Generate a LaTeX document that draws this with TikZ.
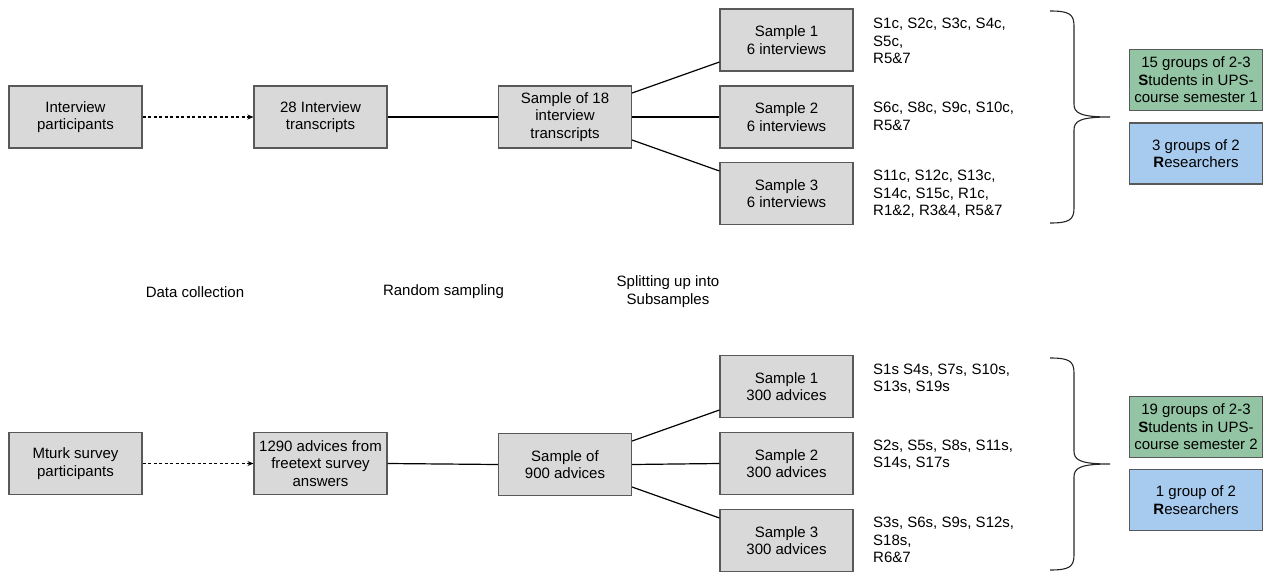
\documentclass[tikz,border=0pt]{standalone}
\usepackage{fontspec}
\setmainfont{Liberation Sans}
\usetikzlibrary{arrows.meta}
\definecolor{boxgray}{HTML}{D9D9D9}
\definecolor{edgegray}{HTML}{595959}
\definecolor{stgreen}{HTML}{93C5A4}
\definecolor{rsblue}{HTML}{A7CBEF}
\tikzset{
  stagebox/.style={draw=edgegray, fill=boxgray, line width=1.1pt, minimum width=133pt, minimum height=62pt, align=center, inner sep=2pt},
  groupbox/.style={draw=edgegray, line width=1.1pt, minimum width=133pt, minimum height=61pt, align=center, inner sep=1pt},
  codes/.style={anchor=west, align=left, inner sep=0pt},
  phase/.style={align=center, inner sep=0pt},
  link/.style={line width=1.2pt, black},
  dotlink/.style={line width=1.2pt, black, dash pattern=on 3pt off 2.5pt, -{Stealth[length=6pt,width=5pt]}},
  bracepath/.style={line width=1.1pt, black!85}
}
\begin{document}
\begin{tikzpicture}[x=1pt,y=-1pt, font=\fontsize{15}{17.5}\selectfont]
\useasboundingbox (0,0) rectangle (1264,573);

% ---- top row ----
\node[stagebox] (ip)  at (75.5,117) {Interview\\participants};
\node[stagebox] (t28) at (320.5,117) {28 Interview\\transcripts};
\node[stagebox] (s18) at (565,117) {Sample of 18\\interview\\transcripts};
\node[stagebox] (a1)  at (786.5,40) {Sample 1\\6 interviews};
\node[stagebox] (a2)  at (786.5,117) {Sample 2\\6 interviews};
\node[stagebox] (a3)  at (786.5,193.5) {Sample 3\\6 interviews};

\draw[dotlink] (ip.east) -- (t28.west);
\draw[link] (t28.east) -- (s18.west);
\draw[link] ([yshift=24pt]s18.east) -- ([yshift=-22pt]a1.west);
\draw[link] (s18.east) -- (a2.west);
\draw[link] ([yshift=-23pt]s18.east) -- ([yshift=22.5pt]a3.west);

\node[codes] (c1) at (873,41) {S1c, S2c, S3c, S4c,\\S5c,\\R5\&7};
\node[codes] (c2) at (873,116.5) {S6c, S8c, S9c, S10c,\\R5\&7};
\node[codes] (c3) at (873,194) {S11c, S12c, S13c,\\S14c, S15c, R1c,\\R1\&2, R3\&4, R5\&7};

\draw[bracepath] (1050,11) .. controls (1069,11) and (1074,14) .. (1074,26)
  -- (1074,104) .. controls (1074,113) and (1080,117) .. (1110,117)
  .. controls (1080,117) and (1074,121) .. (1074,130)
  -- (1074,208) .. controls (1074,220) and (1069,223) .. (1050,223);

\node[groupbox, fill=stgreen] (g1) at (1196,80) {15 groups of 2-3\\\textbf{S}tudents in UPS-\\course semester 1};
\node[groupbox, fill=rsblue] (r1) at (1196,153.5) {3 groups of 2\\\textbf{R}esearchers};

% ---- phase labels ----
\node[phase] (p1) at (195,292) {Data collection};
\node[phase] (p2) at (443.5,292) {Random sampling};
\node[phase] (p3) at (668,291.5) {Splitting up into\\Subsamples};

% ---- bottom row ----
\node[stagebox] (mt)   at (75.5,463.5) {Mturk survey\\participants};
\node[stagebox] (adv)  at (320.5,463.5) {1290 advices from\\freetext survey\\answers};
\node[stagebox] (s900) at (565,464.5) {Sample of\\900 advices};
\node[stagebox] (b1)   at (786.5,386.5) {Sample 1\\300 advices};
\node[stagebox] (b2)   at (786.5,463.5) {Sample 2\\300 advices};
\node[stagebox] (b3)   at (786.5,540.5) {Sample 3\\300 advices};

\draw[dotlink] (mt.east) -- (adv.west);
\draw[link] (adv.east) -- (s900.west);
\draw[link] ([yshift=23.5pt]s900.east) -- ([yshift=-23.5pt]b1.west);
\draw[link] (s900.east) -- (b2.west);
\draw[link] ([yshift=-22.5pt]s900.east) -- ([yshift=22.5pt]b3.west);

\node[codes] (d1) at (873,378.5) {S1s S4s, S7s, S10s,\\S13s, S19s};
\node[codes] (d2) at (873,454.5) {S2s, S5s, S8s, S11s,\\S14s, S17s};
\node[codes] (d3) at (873,540) {S3s, S6s, S9s, S12s,\\S18s,\\R6\&7};

\draw[bracepath] (1050,358) .. controls (1069,358) and (1074,361) .. (1074,373)
  -- (1074,451) .. controls (1074,460) and (1080,464) .. (1110,464)
  .. controls (1080,464) and (1074,468) .. (1074,477)
  -- (1074,555) .. controls (1074,567) and (1069,570) .. (1050,570);

\node[groupbox, fill=stgreen] (g2) at (1196,427) {19 groups of 2-3\\\textbf{S}tudents in UPS-\\course semester 2};
\node[groupbox, fill=rsblue] (r2) at (1196,500) {1 group of 2\\\textbf{R}esearchers};
\end{tikzpicture}
\end{document}
